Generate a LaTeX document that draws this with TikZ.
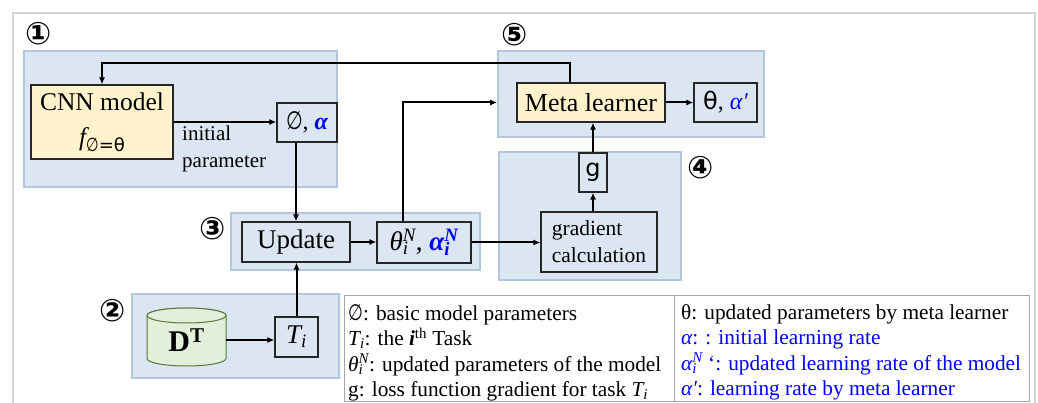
\documentclass[tikz,border=0pt]{standalone}
\usepackage{fontspec}
\setmainfont{Liberation Serif}
\newfontfamily\dvsans{DejaVu Sans}
\usetikzlibrary{arrows.meta,calc}
\newcommand\setfs[2]{\fontsize{#1}{#2}\selectfont}
% italic symbol with subscript and superscript stacked
\newcommand\subsup[3]{#1\rlap{\textsubscript{#2}}\textsuperscript{#3}}
\newcommand\nullset{{\dvsans\scalebox{0.8}[1.05]{∅}}}
\definecolor{grpfill}{HTML}{DCE6F2}
\definecolor{grpline}{HTML}{B3C6DE}
\definecolor{modfill}{HTML}{FFF2CC}
\definecolor{dbfill}{HTML}{E2EFDA}
\definecolor{dbline}{HTML}{58773C}
\definecolor{lrblue}{HTML}{0000FF}
\definecolor{framegray}{HTML}{D4D4D4}
\definecolor{legline}{HTML}{A6A6A6}
\begin{document}
\begin{tikzpicture}[x=1pt,y=-1pt,
  grp/.style={draw=grpline,fill=grpfill,line width=1.6pt,inner sep=0},
  box/.style={draw=black!85,line width=1.2pt,inner sep=0,align=center},
  arr/.style={line width=2pt,-{Latex[length=7pt,width=6pt]}},
  num/.style={font=\dvsans\bfseries\setfs{31}{31},inner sep=0},
  legend/.style={anchor=north west,inner sep=0,align=left,font=\setfs{21.3}{25.5}}]
\useasboundingbox (0,0) rectangle (1038,403);
% outer frame
\draw[framegray,line width=1.3pt] (13,13) rectangle (1035,420);

% stage groups
\node[grp,minimum width=313,minimum height=136] (g1) at (180.5,119) {};
\node[grp,minimum width=266,minimum height=86] (g5) at (631,94) {};
\node[grp,minimum width=182,minimum height=128] (g4) at (590,216) {};
\node[grp,minimum width=249,minimum height=57] (g3) at (355.5,241.5) {};
\node[grp,minimum width=207,minimum height=84] (g2) at (235.5,336) {};

% stage numbers
\node[num] (n1) at (39,34) {①};
\node[num] (n5) at (515,35) {⑤};
\node[num] (n4) at (701,168) {④};
\node[num] (n3) at (213,229) {③};
\node[num] (n2) at (113,311) {②};

% blocks
\node[box,fill=modfill,minimum width=142,minimum height=74,font=\setfs{25.5}{37}] (cnn) at (102,122)
  {CNN model\\[-2pt]{\itshape f}\raisebox{-6pt}{\dvsans\setfs{18}{18}\scalebox{0.8}[1.05]{∅}=θ}};
\node[box,minimum width=60,minimum height=39,font=\setfs{24}{24}] (phi) at (307,122.5)
  {\nullset, {\color{lrblue}\bfseries\itshape α}};
\node[anchor=north west,inner sep=0,align=left,font=\setfs{21}{27}] (lbl) at (182,126) {initial\\parameter};

\node[box,fill=modfill,minimum width=148,minimum height=39,font=\setfs{26}{26}] (meta) at (591,102.5) {Meta learner};
\node[box,minimum width=63,minimum height=39,font=\setfs{24}{24}] (thb) at (725.5,102.5)
  {{\dvsans θ}, {\color{lrblue}\itshape α′}};
\node[box,minimum width=28,minimum height=39,font=\dvsans\setfs{24}{24}] (gbox) at (593,172.5) {g};
\node[box,minimum width=116,minimum height=60,font=\setfs{21.5}{27},align=left] (grad) at (599,242) {gradient\\calculation};

\node[box,minimum width=108,minimum height=40,font=\setfs{27}{27}] (upd) at (296,242) {Update};
\node[box,minimum width=94,minimum height=41,font=\setfs{27}{27}] (thi) at (424,242.5)
  {{\itshape\subsup{θ}{i}{N}}, {\color{lrblue}\bfseries\itshape\subsup{α}{i}{N}}};

\node[box,minimum width=43,minimum height=40,font=\setfs{27}{27}] (ti) at (296.5,337) {\itshape T\textsubscript{i}};

% data set cylinder
\path[draw=dbline,fill=dbfill,line width=1pt]
  (147,315.5) -- (147,358.5)
  arc[start angle=180,end angle=360,x radius=39.5pt,y radius=7.5pt]
  -- (226,315.5)
  arc[start angle=0,end angle=180,x radius=39.5pt,y radius=7.5pt] -- cycle;
\path[draw=dbline,fill=dbfill,line width=1pt] (186.5,315.5) ellipse[x radius=39.5pt,y radius=7.5pt];
\node[inner sep=0,minimum width=79,minimum height=40,font=\bfseries\setfs{30}{30}] (db) at (186.5,340) {D\textsuperscript{T}};

% connectors
\draw[arr] (cnn.east) -- (cnn.east -| phi.west);
\draw[arr] (phi.south -| upd.north) -- (upd.north);
\draw[arr] (ti.north) -- (ti.north |- upd.south);
\draw[arr] (db.east) -- (db.east -| ti.west);
\draw[arr] (upd.east) -- (upd.east -| thi.west);
\draw[arr] (thi.east) -- (thi.east -| grad.west);
\draw[arr] ([xshift=-21pt]thi.north) |- (meta.west -| g5.west);
\draw[arr] (grad.north -| gbox.south) -- (gbox.south);
\draw[arr] (gbox.north) -- (gbox.north |- meta.south);
\draw[arr] (meta.east) -- (meta.east -| thb.west);
\draw[arr] ([xshift=-21pt]meta.north) -- ++(0,-19) -| (cnn.north);

% legend table
\draw[legline,line width=1pt] (344,295) rectangle (1029,401);
\draw[legline,line width=1pt] (674,295) -- (674,401);
\node[legend] (legL) at (348,304)
  {\nullset: basic model parameters\\
   {\itshape T\textsubscript{i}}: the \textbf{\textit{i}}\textsuperscript{th} Task\\
   {\itshape\subsup{θ}{i}{N}}: updated parameters of the model\\
   g: loss function gradient for task {\itshape T\textsubscript{i}}};
\node[legend] (legR) at (681,304)
  {θ: updated parameters by meta learner\\
   {\color{lrblue}{\itshape α}: : initial learning rate}\\
   {\color{lrblue}{\itshape\subsup{α}{i}{N}} ‘: updated learning rate of the model}\\
   {\color{lrblue}{\itshape α′}: learning rate by meta learner}};
\end{tikzpicture}
\end{document}
